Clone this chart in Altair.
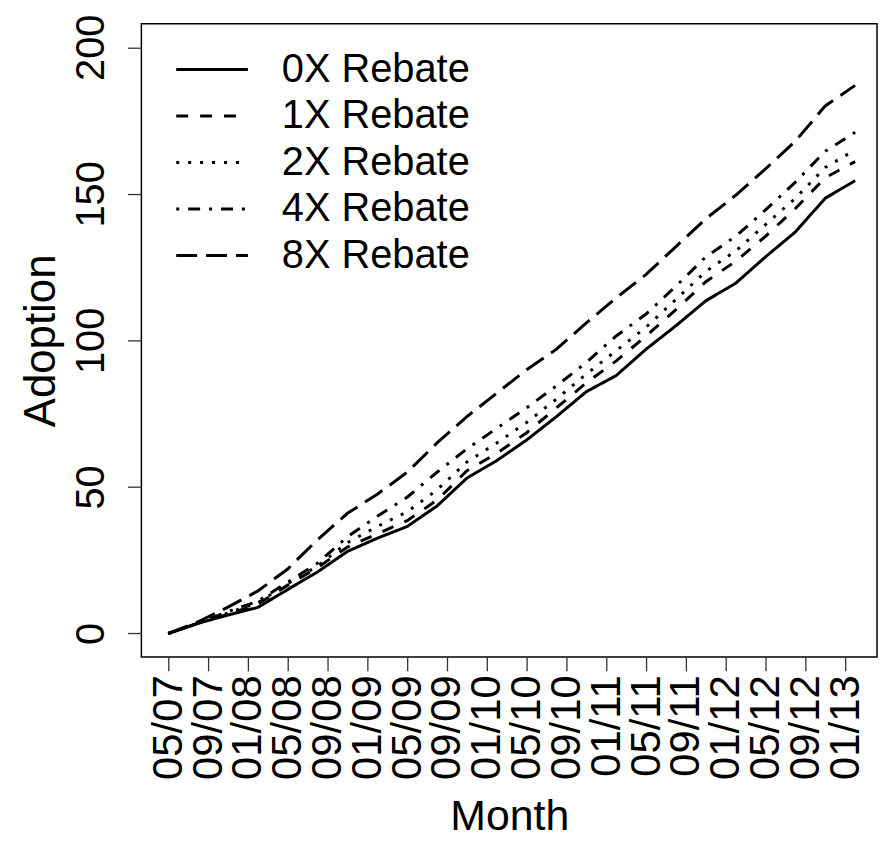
import altair as alt
import pandas as pd

# x positions: months since 05/2007 (quarterly observations)
months = [0, 3, 6, 9, 12, 15, 18, 21, 24, 27, 30, 33, 36, 39, 42, 45, 48, 51, 54, 57, 60, 63, 66, 69]

series_names = ["0X Rebate", "1X Rebate", "2X Rebate", "4X Rebate", "8X Rebate"]

rebate_0x = [0, 3.5, 6.3, 8.9, 15, 21, 28, 32.5, 36.5, 43.5, 53, 59, 66, 74, 82.5, 88, 97, 105, 113.5, 119.5, 128.5, 137, 148.5, 154.5]
rebate_1x = [0, 3.5, 6.5, 10, 16.5, 22.5, 29.5, 34, 38.5, 45.5, 55.5, 61.5, 68.5, 77, 85.5, 93, 101.5, 110.5, 120, 127, 135.5, 145, 155.5, 161]
rebate_2x = [0, 3.5, 7, 10.5, 17, 23, 31, 36.5, 41.5, 49, 58.5, 65, 72, 80, 88.5, 96.5, 104.5, 114, 123.5, 130.5, 139.5, 148.5, 159, 165]
rebate_4x = [0, 3.5, 7.5, 11, 17.5, 24, 33, 40, 46.5, 55, 63, 70, 77, 84.5, 92.5, 101.5, 109, 118.5, 128.5, 135.5, 144.5, 154, 164.5, 171]
rebate_8x = [0, 4, 9, 14.5, 22, 32, 41, 47.5, 55, 65, 74, 82, 90, 97, 106, 114.5, 122.5, 132, 141.5, 149.5, 158.5, 168, 180, 187]

tick_positions = [0, 4, 8, 12, 16, 20, 24, 28, 32, 36, 40, 44, 48, 52, 56, 60, 64, 68]
tick_labels = ["05/07", "09/07", "01/08", "05/08", "09/08", "01/09", "05/09", "09/09", "01/10",
               "05/10", "09/10", "01/11", "05/11", "09/11", "01/12", "05/12", "09/12", "01/13"]
y_ticks = [0, 50, 100, 150, 200]

rows = []
for name, vals in zip(series_names, [rebate_0x, rebate_1x, rebate_2x, rebate_4x, rebate_8x]):
    for m, v in zip(months, vals):
        rows.append({"month": m, "adoption": v, "series": name})
df = pd.DataFrame(rows)

dashes = [[1, 0], [12, 12], [3, 9], [3, 9, 12, 9], [21, 9]]

label_array = "[" + ",".join("'%s'" % t for t in tick_labels) + "]"
FONT = "Liberation Sans"
LW = 3

chart = alt.Chart(df).mark_line(color="black", strokeWidth=LW, clip=True).encode(
    x=alt.X("month:Q",
            scale=alt.Scale(domain=[-2.7, 71.2], nice=False, zero=False),
            axis=alt.Axis(values=tick_positions,
                          labelExpr=label_array + "[round(datum.value/4)]",
                          title="Month", labelAngle=270, labelAlign="right",
                          labelBaseline="middle", labelFontSize=42, labelPadding=4,
                          tickSize=14, labelOverlap=False, labelFlush=False,
                          grid=False, domain=False,
                          titleFontSize=43, titleFontWeight="normal",
                          titleX=369.5, titleY=160, titleBaseline="middle",
                          titleAlign="center")),
    y=alt.Y("adoption:Q",
            scale=alt.Scale(domain=[-8, 208], nice=False, zero=False),
            axis=alt.Axis(values=y_ticks, title="Adoption", labelAngle=270,
                          labelAlign="center", labelBaseline="bottom",
                          labelFontSize=40, labelPadding=16, tickSize=14,
                          labelOverlap=False, labelFlush=False,
                          grid=False, domain=False,
                          titleFontSize=44, titleFontWeight="normal",
                          titleAngle=270, titleX=-100, titleY=318,
                          titleBaseline="middle", titleAlign="center")),
    strokeDash=alt.StrokeDash("series:N",
                              scale=alt.Scale(domain=series_names, range=dashes),
                              legend=alt.Legend(title=None, orient="none",
                                                legendX=51, legendY=26,
                                                symbolType="M-3,0H3", symbolSize=576,
                                                symbolStrokeWidth=LW,
                                                symbolStrokeColor="black",
                                                labelFontSize=40, labelFont=FONT,
                                                labelColor="black", labelOffset=50,
                                                labelLimit=400, rowPadding=6.7,
                                                padding=0)),
).properties(
    width=739, height=636,
    background="white",
    autosize=alt.AutoSizeParams(type="none"),
    padding={"left": 134, "top": 14, "right": 5, "bottom": 180},
).configure_view(
    stroke="black", strokeWidth=1.5
).configure_axis(
    domain=False, grid=False, tickColor="#333333", tickWidth=1.3,
    labelFont=FONT, titleFont=FONT, labelColor="black", titleColor="black"
)

chart.save("out.html", embed_options={"renderer": "svg", "actions": False})
